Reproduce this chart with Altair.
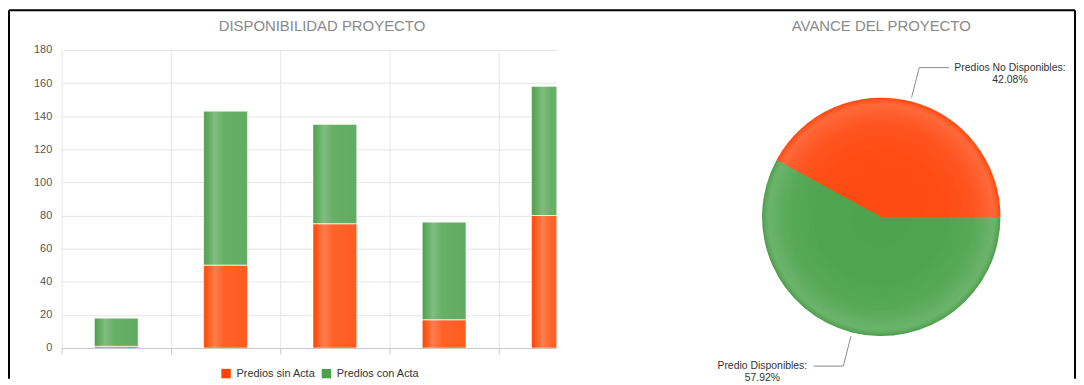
import math
import altair as alt
import pandas as pd

# ---------------- data ----------------
categories = ["Proyecto 1", "Proyecto 2", "Proyecto 3", "Proyecto 4", "Proyecto 5"]
sin_acta = [1, 50, 75, 17, 80]
con_acta = [17, 93, 60, 59, 78]
series_names = ["Predios sin Acta", "Predios con Acta"]
series_colors = ["#ff4500", "#4aa14a"]
y_ticks = [0, 20, 40, 60, 80, 100, 120, 140, 160, 180]
pie_names = ["Predio Disponibles", "Predios No Disponibles"]

FONT = "Liberation Sans"

rows = []
for i, c in enumerate(categories):
    rows.append({"cat": c, "idx": i, "serie": series_names[0], "k": 0, "value": sin_acta[i]})
    rows.append({"cat": c, "idx": i, "serie": series_names[1], "k": 1, "value": con_acta[i]})
bar_df = pd.DataFrame(rows)

# ---------------- bar panel ----------------
W1, H1 = 498, 300
BAND = 110.0
x_visible = W1 / BAND  # the 5th column is cut by the panel edge, as in the original

base = (
    alt.Chart(bar_df)
    .transform_stack(stack="value", groupby=["idx"], as_=["v0", "v1"],
                     sort=[alt.SortField("k", order="ascending")])
    .transform_calculate(xs="datum.idx + 0.3", xe="datum.idx + 0.7")
)

x_enc = alt.X("xs:Q", scale=alt.Scale(domain=[0, x_visible], nice=False, zero=False),
              axis=alt.Axis(title=None, labels=False, values=[0, 1, 2, 3, 4], grid=True,
                            gridColor="#e6e6e6", domainColor="#c8c8c8", tickColor="#c8c8c8",
                            tickSize=6))
x2_enc = alt.X2("xe:Q")
y_enc = alt.Y("v0:Q", scale=alt.Scale(domain=[0, 180], nice=False),
              axis=alt.Axis(title=None, values=y_ticks, domain=False, ticks=False, tickSize=0,
                            labelPadding=10, gridColor="#e6e6e6", labelColor="#555555",
                            labelFontSize=11, labelFont=FONT))
y2_enc = alt.Y2("v1:Q")

bars = base.mark_bar(clip=True).encode(
    x=x_enc, x2=x2_enc, y=y_enc, y2=y2_enc,
    color=alt.Color("serie:N", scale=alt.Scale(domain=series_names, range=series_colors),
                    legend=alt.Legend(title=None, orient="none", legendX=160, legendY=320,
                                      direction="horizontal", symbolType="square",
                                      symbolSize=90, symbolStrokeWidth=0, labelFontSize=11,
                                      labelColor="#333333", labelFont=FONT, columnPadding=5,
                                      labelOffset=5)),
)

shine_fill = {
    "gradient": "linear", "x1": 0, "x2": 1, "y1": 0, "y2": 0,
    "stops": [
        {"offset": 0.0, "color": "rgba(255,255,255,0)"},
        {"offset": 0.1, "color": "rgba(255,255,255,0.12)"},
        {"offset": 0.25, "color": "rgba(255,255,255,0.3)"},
        {"offset": 0.45, "color": "rgba(255,255,255,0.16)"},
        {"offset": 1.0, "color": "rgba(255,255,255,0.12)"},
    ],
}
shine = base.mark_bar(clip=True, fill=shine_fill, stroke="#ffffff", strokeOpacity=0.55,
                      strokeWidth=1).encode(x=x_enc, x2=x2_enc, y=y_enc, y2=y2_enc,
                                            detail="serie:N")

one = pd.DataFrame({"a": [0]})
frame_left = alt.Chart(one).mark_rule(color="#000000", strokeWidth=2).encode(
    x=alt.value(-53), y=alt.value(-40), y2=alt.value(331))
frame_top = alt.Chart(one).mark_rule(color="#000000", strokeWidth=2).encode(
    x=alt.value(-53), x2=alt.value(1020), y=alt.value(-40))
frame_right = alt.Chart(one).mark_rule(color="#000000", strokeWidth=2).encode(
    x=alt.value(1020), y=alt.value(-40), y2=alt.value(331))

bar_chart = alt.layer(bars, shine, frame_left, frame_top, frame_right).properties(
    width=W1, height=H1,
    title=alt.TitleParams("DISPONIBILIDAD PROYECTO", fontSize=15, fontWeight="normal",
                          color="#8a8a8a", font=FONT, anchor="middle", frame="group",
                          dx=13, offset=-25),
)

# ---------------- pie panel ----------------
W2, H2 = 384, 336
R = 120
pie_vals = [sum(con_acta), sum(sin_acta)]
total = sum(pie_vals)
pie_df = pd.DataFrame({"name": pie_names, "v": pie_vals, "k": [0, 1]})

theta_scale = alt.Scale(range=[math.pi / 2, math.pi / 2 + 2 * math.pi])


def _hex(c):
    c = c.lstrip("#")
    return [int(c[i:i + 2], 16) for i in (0, 2, 4)]


def _mix(c1, c2, t):
    a, b = _hex(c1), _hex(c2)
    return "#" + "".join(f"{round(a[i] + (b[i] - a[i]) * t):02x}" for i in range(3))


# radial shading profile of the pie (fraction of radius, green, orange)
profile = [
    (0.00, "#4ea34e", "#ff4a10"),
    (0.55, "#50a450", "#ff4c14"),
    (0.78, "#57a957", "#ff541f"),
    (0.90, "#65b165", "#ff6232"),
    (0.945, "#6bb56b", "#ff6a3a"),
    (0.975, "#5faa5f", "#ff5a28"),
    (1.00, "#4c9e4c", "#ff4a0a"),
]


def shade(f):
    for (f0, g0, o0), (f1, g1, o1) in zip(profile[:-1], profile[1:]):
        if f0 <= f <= f1:
            t = (f - f0) / (f1 - f0) if f1 > f0 else 0
            return _mix(g0, g1, t), _mix(o0, o1, t)
    return profile[-1][1], profile[-1][2]


radii = [120, 119, 118, 117, 116, 115, 114, 113, 112, 111, 110, 108, 106, 104, 102, 100,
         97, 94, 90, 86, 82, 78, 73, 68, 62, 55, 45, 30]
ring_layers = []
for r in radii:
    cg, co = shade((r - 0.5) / R)
    ring_layers.append(
        alt.Chart(pie_df)
        .transform_calculate(c=f"datum.k == 0 ? '{cg}' : '{co}'")
        .mark_arc(radius=r)
        .encode(theta=alt.Theta("v:Q", stack=True, scale=theta_scale),
                order=alt.Order("k:Q"),
                color=alt.Color("c:N", scale=None))
    )

# leader lines and labels, placed from the slice mid-angles
line_rows, text_rows = [], []
cum = 0
for name, v in zip(pie_names, pie_vals):
    a0 = math.pi / 2 + 2 * math.pi * cum / total
    a1 = a0 + 2 * math.pi * v / total
    am = (a0 + a1) / 2
    cum += v
    s = 1 if math.sin(am) >= 0 else -1
    p0 = ((R + 4) * math.sin(am), (R + 4) * math.cos(am))
    p1 = ((R + 35) * math.sin(am), (R + 35) * math.cos(am))
    p2 = (p1[0] + s * 30, p1[1])
    for j, p in enumerate([p0, p1, p2]):
        line_rows.append({"name": name, "j": j, "lx": p[0], "ly": p[1]})
    label = f"{name}:"
    hw = len(label) * 4.9 / 2
    text_rows.append({"name": name, "tx": p2[0] + s * (hw + 5), "ty": p2[1],
                      "txt": f"{label}\n{100 * v / total:.2f}%"})
line_df = pd.DataFrame(line_rows)
text_df = pd.DataFrame(text_rows)

px = alt.Scale(domain=[-W2 / 2, W2 / 2], nice=False, zero=False)
py = alt.Scale(domain=[-H2 / 2, H2 / 2], nice=False, zero=False)

leaders = alt.Chart(line_df).mark_line(color="#8a8a8a", strokeWidth=1).encode(
    x=alt.X("lx:Q", scale=px, axis=None),
    y=alt.Y("ly:Q", scale=py, axis=None),
    detail="name:N", order="j:Q")
labels = alt.Chart(text_df).mark_text(align="center", baseline="middle", lineBreak="\n",
                                      fontSize=10.5, color="#333333", font=FONT,
                                      lineHeight=12).encode(
    x=alt.X("tx:Q", scale=px, axis=None),
    y=alt.Y("ty:Q", scale=py, axis=None),
    text="txt:N")

pie_chart = alt.layer(*ring_layers, leaders, labels).properties(
    width=W2, height=H2,
    title=alt.TitleParams("AVANCE DEL PROYECTO", fontSize=15, fontWeight="normal",
                          color="#8a8a8a", font=FONT, anchor="middle", frame="group",
                          offset=16),
)

chart = (
    alt.hconcat(bar_chart, pie_chart, spacing=135, bounds="flush")
    .properties(padding={"left": 0, "top": 0, "right": 0, "bottom": 0})
    .configure(font=FONT)
    .configure_view(stroke=None)
)

chart.save("out.html", embed_options={"renderer": "svg", "actions": False})
